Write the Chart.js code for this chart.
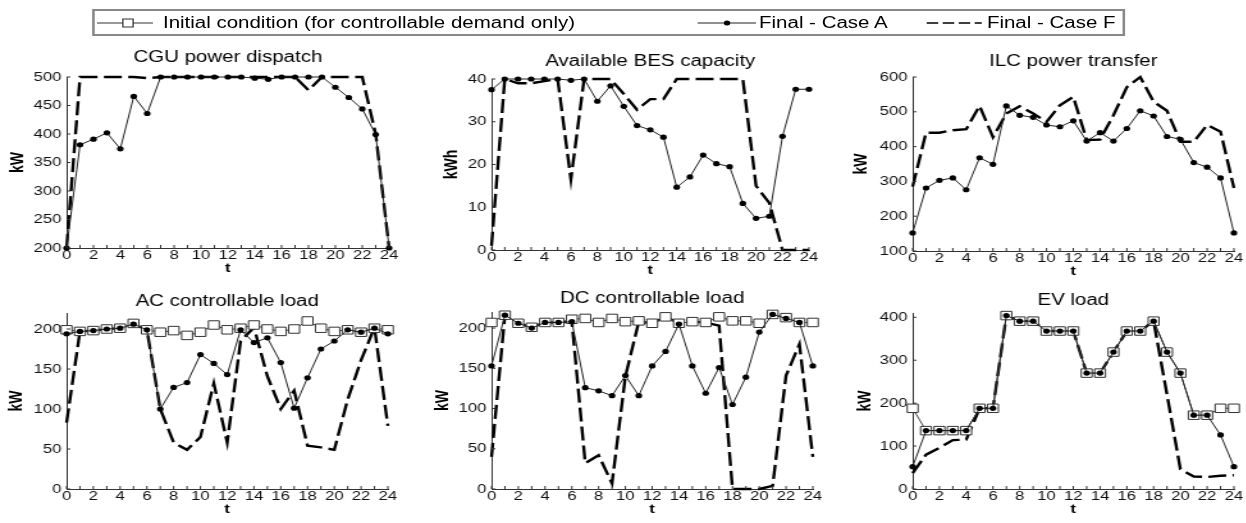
<!DOCTYPE html>
<html>
<head>
<meta charset="utf-8">
<script src="https://cdn.jsdelivr.net/npm/chart.js@4.4.1/dist/chart.umd.min.js"></script>
<style>
html,body{margin:0;padding:0;background:#fff;overflow:hidden}
#fig{position:absolute;left:0;top:0;width:974px;height:523px;transform:scaleX(1.28);transform-origin:0 0;font-family:"Liberation Sans",Arial,sans-serif}
#fig canvas{position:absolute}
#legendBox{position:absolute;left:72px;top:9px;width:803px;height:23px;border:2px solid #888}
.lt{position:absolute;top:13px;line-height:20px;font-size:16px;color:#000;white-space:nowrap}
#legendMarks{position:absolute;left:0;top:0}
</style>
</head>
<body>
<div id="fig">
  <div id="legendBox"></div>
  <svg id="legendMarks" width="974" height="40">
    <line x1="75.8" y1="23" x2="119.5" y2="23" stroke="#333" stroke-width="1"/>
    <rect x="96" y="19" width="8" height="8" fill="#fff" stroke="#333" stroke-width="1"/>
    <line x1="545" y1="23" x2="590.6" y2="23" stroke="#222" stroke-width="1"/>
    <circle cx="568" cy="23" r="2.5" fill="#000"/>
    <line x1="724" y1="23" x2="767" y2="23" stroke="#000" stroke-width="1.3" stroke-dasharray="9,3.5"/>
  </svg>
  <span class="lt" style="left:127.3px">Initial condition (for controllable demand only)</span>
  <span class="lt" style="left:593px">Final - Case A</span>
  <span class="lt" style="left:771px">Final - Case F</span>
</div>
<script>
// time axis
const hours = [0,1,2,3,4,5,6,7,8,9,10,11,12,13,14,15,16,17,18,19,20,21,22,23,24];
const xTicks = [0,2,4,6,8,10,12,14,16,18,20,22,24];

// CGU power dispatch (kW)
const cguA = [200,381,391,402,374,466,436,500,500,500,500,500,500,500,498,496,500,500,500,500,482,464,444,399,200];
const cguF = [200,500,500,500,500,500,498,500,500,500,500,500,500,500,500,500,500,500,477,500,500,500,500,400,200];
const cguTicks = [200,250,300,350,400,450,500];

// Available BES capacity (kWh)
const besA = [37.5,40,40,40,40,40,39.7,40,34.8,38.4,33.6,29.1,28.1,26.4,14.7,17.1,22.2,20.2,19.5,10.9,7.4,7.9,26.6,37.6,37.6];
const besF = [1,40,39,39,39.5,40,16.5,40,40,40,36.5,32.8,35.3,35.3,40,40,40,40,40,40,15,11,0,0,0];
const besTicks = [0,10,20,30,40];

// ILC power transfer (kW)
const ilcA = [152,281,303,310,276,368,349,517,490,484,462,457,474,416,440,416,452,503,488,429,421,354,341,310,152];
const ilcF = [285,440,440,447,450,517,427,495,516,495,471,519,543,419,420,490,571,600,529,503,414,414,462,443,281];
const ilcTicks = [100,200,300,400,500,600];

// AC controllable load (kW)
const acInit = [199,197,198,200,201,207,199,196,198,192,196,205,199,201,205,200,197,200,210,201,197,199,196,201,199];
const acA = [194,197,198,200,201,206,199,100,127,133,168,157,143,199,183,189,158,101,139,175,185,199,196,201,194];
const acF = [83,197,198,200,201,206,199,100,58,49,65,132,58,185,202,141,100,123,54,52,49,112,161,202,79];
const acTicks = [0,50,100,150,200];

// DC controllable load (kW)
const dcInit = [207,216,206,201,207,207,211,212,207,212,208,209,206,214,206,208,207,214,209,209,206,217,213,207,207];
const dcA = [153,216,206,200,207,207,208,126,122,116,141,116,153,171,205,153,119,151,105,139,195,217,212,207,153];
const dcF = [40,216,206,201,207,207,208,32,42,7,140,208,206,214,206,208,207,203,0,0,0,4,141,180,40];
const dcTicks = [0,50,100,150,200];

// EV load (kW)
const evInit = [188,136,136,136,136,188,188,404,391,391,368,368,368,270,270,319,368,368,391,319,270,172,172,188,188];
const evA = [52,136,136,136,136,188,188,404,391,391,368,368,368,270,270,319,368,368,391,319,270,172,172,126,52];
const evF = [37,80,96,114,115,188,188,404,391,391,368,368,368,270,270,319,368,368,391,220,46,29,28,31,32];
const evTicks = [0,100,200,300,400];

const FONT = '"Liberation Sans", Arial, sans-serif';

function pts(vals){ return vals.map((v,i)=>({x:hours[i], y:v})); }

function initSet(vals){
  return {label:'Initial condition (for controllable demand only)', data:pts(vals),
    borderColor:'#444', borderWidth:1, pointStyle:'rect', pointRadius:6,
    pointBackgroundColor:'#fff', pointBorderColor:'#333', pointBorderWidth:1, order:1, clip:false};
}
function caseASet(vals){
  return {label:'Final - Case A', data:pts(vals),
    borderColor:'#222', borderWidth:1, pointStyle:'circle', pointRadius:2.6,
    pointBackgroundColor:'#000', pointBorderColor:'#000', pointBorderWidth:0, order:0, clip:false};
}
function caseFSet(vals){
  return {label:'Final - Case F', data:pts(vals),
    borderColor:'#000', borderWidth:2.4, borderDash:[14,5], pointRadius:0, order:2, clip:false};
}

// small inward tick marks like the original figure
const inwardTicks = {
  id:'inwardTicks',
  afterDraw(chart){
    const {ctx, chartArea:a, scales:{x, y}} = chart;
    ctx.save();
    ctx.strokeStyle = '#333';
    ctx.lineWidth = 1;
    ctx.beginPath();
    hours.forEach(h=>{
      const px = x.getPixelForValue(h);
      ctx.moveTo(px, a.bottom); ctx.lineTo(px, a.bottom-3);
    });
    y.ticks.forEach(t=>{
      const py = y.getPixelForValue(t.value);
      ctx.moveTo(a.left, py); ctx.lineTo(a.left+3, py);
    });
    ctx.stroke();
    ctx.restore();
  }
};

const panels = [
  {title:'CGU power dispatch', ylabel:'kW', l:52.3, r:304.7, t:77, b:248, titleY:57.5, labGap:37.7,
   ymin:200, ymax:500, yticks:cguTicks, sets:[caseFSet(cguF), caseASet(cguA)]},
  {title:'Available BES capacity', ylabel:'kWh', l:384.4, r:632.8, t:79, b:250, titleY:61.7, labGap:31,
   ymin:0, ymax:40, yticks:besTicks, sets:[caseFSet(besF), caseASet(besA)]},
  {title:'ILC power transfer', ylabel:'kW', l:713.3, r:964.1, t:77, b:251, titleY:62, labGap:39.8,
   ymin:100, ymax:600, yticks:ilcTicks, sets:[caseFSet(ilcF), caseASet(ilcA)]},
  {title:'AC controllable load', ylabel:'kW', l:52.3, r:303.1, t:313, b:489, titleY:301.7, labGap:39,
   ymin:0, ymax:220, yticks:acTicks, sets:[caseFSet(acF), initSet(acInit), caseASet(acA)]},
  {title:'DC controllable load', ylabel:'kW', l:383.6, r:634.4, t:312, b:489, titleY:298.7, labGap:37.7,
   ymin:0, ymax:220, yticks:dcTicks, sets:[caseFSet(dcF), initSet(dcInit), caseASet(dcA)]},
  {title:'EV load', ylabel:'kW', l:713.3, r:964.1, t:313, b:489, titleY:300.7, labGap:37,
   ymin:0, ymax:410, yticks:evTicks, sets:[caseFSet(evF), initSet(evInit), caseASet(evA)]}
];

const fig = document.getElementById('fig');

panels.forEach(p=>{
  const yW = 50, xH = 30, padR = 14;
  const cLeft = p.l - yW;
  const cTop = Math.round(p.titleY - 10);
  const titleBlock = p.t - cTop;
  const plotW = Math.round(p.r - p.l);
  const plotH = Math.round(p.b - p.t);
  const cv = document.createElement('canvas');
  cv.width = plotW + yW + padR;
  cv.height = titleBlock + plotH + xH;
  cv.style.left = cLeft + 'px';
  cv.style.top = cTop + 'px';
  cv.style.width = cv.width + 'px';
  cv.style.height = cv.height + 'px';
  fig.appendChild(cv);

  new Chart(cv, {
    type:'line',
    data:{datasets:p.sets},
    options:{
      responsive:false,
      animation:false,
      devicePixelRatio:1,
      events:[],
      layout:{padding:{top:0,left:0,right:padR,bottom:0}},
      plugins:{
        legend:{display:false},
        tooltip:{enabled:false},
        title:{display:true, text:p.title, color:'#000', fullSize:false,
          font:{family:FONT, size:16, weight:'normal', lineHeight:1.25},
          padding:{top:0, bottom:titleBlock-20}}
      },
      scales:{
        x:{type:'linear', min:0, max:24,
          grid:{display:false, drawTicks:false},
          border:{display:true, color:'#333', width:1},
          ticks:{autoSkip:false, maxRotation:0, padding:0, color:'#111',
            font:{family:FONT, size:13}},
          afterBuildTicks(s){ s.ticks = xTicks.map(v=>({value:v})); },
          title:{display:true, text:'t', color:'#000', padding:{top:0,bottom:2},
            font:{family:FONT, size:13, weight:'bold', lineHeight:1.2}},
          afterFit(s){ s.height = xH; }
        },
        y:{type:'linear', min:p.ymin, max:p.ymax,
          grid:{display:false, drawTicks:false},
          border:{display:true, color:'#333', width:1},
          ticks:{autoSkip:false, padding:4, color:'#111', font:{family:FONT, size:13}},
          afterBuildTicks(s){ s.ticks = p.yticks.map(v=>({value:v})); },
          title:{display:true, text:p.ylabel, color:'#000', padding:{top:41.6-p.labGap,bottom:0},
            font:{family:FONT, size:14, weight:'bold', lineHeight:1.2}},
          afterFit(s){ s.width = yW; }
        }
      }
    },
    plugins:[inwardTicks]
  });
});
</script>
</body>
</html>
